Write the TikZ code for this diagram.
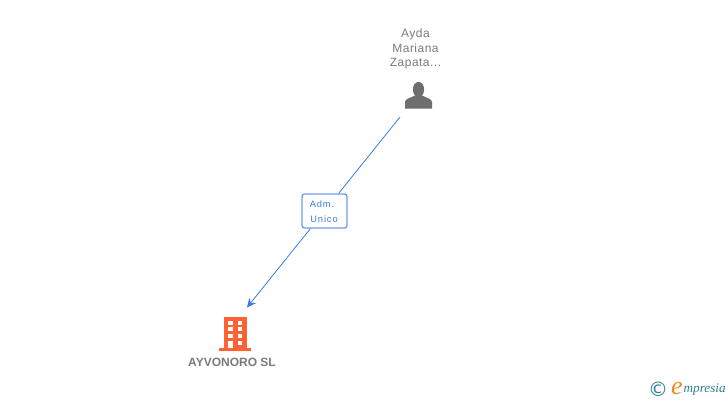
\documentclass[tikz,border=0pt]{standalone}
\usepackage{fontspec}
\setmainfont{Liberation Sans}
\newfontfamily\spaced[LetterSpace=4]{Liberation Sans}
\newfontfamily\tagfont[LetterSpace=10]{Liberation Sans}
\newfontfamily\logofont{Liberation Serif}
\newfontfamily\symfont{DejaVu Sans}
\usepackage{tikz}
\usepackage{xcolor}
\usetikzlibrary{arrows.meta}

\begin{document}
\begin{tikzpicture}[x=1pt,y=-1pt,>={Stealth[length=9,width=8.5]},
  mytext/.style={text=txtgray,inner sep=0,font=\fontsize{12}{14.7}\selectfont\spaced},
  mytag/.style={text=linkblue,inner sep=0,font=\fontsize{9.3}{11}\selectfont\tagfont},
  mybox/.style={draw=boxblue,line width=1.3,rounded corners=2.5,fill=white,minimum width=45,minimum height=34,inner sep=0},
  mylink/.style={draw=linkblue,line width=0.8}]
\definecolor{txtgray}{HTML}{7A7A7A}
\definecolor{icongray}{HTML}{6E6E6E}
\definecolor{linkblue}{HTML}{3B7DDD}
\definecolor{boxblue}{HTML}{6A9DE8}
\definecolor{brick}{HTML}{FF6333}
\definecolor{logoteal}{HTML}{2F7F96}
\definecolor{logoorange}{HTML}{F08A1D}
\useasboundingbox (0,0) rectangle (728,400);
% person
\node [mytext,align=center] (persona) at (415.5,49) {Ayda\\Mariana\\Zapata...};
\fill [icongray] (418.5,89.5) ellipse (5.6 and 7.6);
\fill [icongray] (405,108.5) -- (405,102) .. controls (405,99) and (410,98) .. (415,95.5)
  -- (422,95.5) .. controls (427,98) and (432,99) .. (432,102) -- (432,108.5) -- cycle;
\coordinate (from) at (400,117);
% link
\node [mybox] (cargo) at (324.5,211) {};
\node [mytag] (cargo1) at (322,204) {Adm.};
\node [mytag] (cargo2) at (324,219) {Unico};
\coordinate (to) at (247,307.5);
\draw [mylink] (from) -- (cargo);
\draw [mylink,->] (cargo) -- (to);
% company
\fill [brick] (224,317) rectangle (247,348);
\fill [brick] (219,347.7) rectangle (251,350.5);
\foreach \xpos in {228.2,237.6}
  \foreach \ypos in {321,327.4,334.2}
  {\fill [white] (\xpos,\ypos) rectangle +(4.7,4);}
\fill [white] (237.6,341) rectangle +(4.7,4);
\fill [white] (228.2,341) rectangle (232.9,348);
\node [mytext,font=\fontsize{12}{14}\selectfont\bfseries] (empresa) at (232,362.5) {AYVONORO SL};
% logo
\node [inner sep=0,text=logoteal,font=\fontsize{20}{22}\selectfont\symfont] (copyr) at (658,389) {©};
\node [inner sep=0,text=logoorange,font=\fontsize{26}{28}\selectfont\logofont\itshape] (logoe) at (677,388) {e};
\node [inner sep=0,anchor=west,text=logoteal,font=\fontsize{13.2}{16}\selectfont\logofont\itshape] (logotxt) at (683.5,390) {mpresia};
\end{tikzpicture}
\end{document}
